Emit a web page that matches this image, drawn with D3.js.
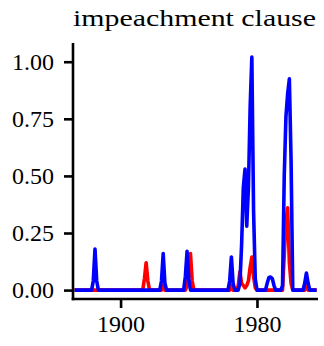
<!DOCTYPE html>
<html><head><meta charset="utf-8">
<script src="https://cdn.jsdelivr.net/npm/d3@7"></script>
<style>body{margin:0;background:#fff}svg{display:block}</style>
</head><body>
<script>
const title = "impeachment clause";
const yTicks = [0, 0.25, 0.5, 0.75, 1.0];
const xTicks = [1900, 1980];
const blueYears = [1873,1883,1884,1885,1886,1887,1923,1924,1925,1926,1927,1937,1938,1939,1940,1941,1963,1964,1965,1966,1967,1969,1970,1971,1972,1973,1974,1975,1976,1977,1978,1979,1980,1985,1986,1987,1988,1989,1990,1991,1994,1995,1996,1997,1998,1999,2000,2001,2007,2008,2009,2010,2011,2015];
const blueValues = [0,0,0.04,0.18,0.04,0,0,0.04,0.16,0.03,0,0,0.06,0.17,0.05,0,0,0.04,0.145,0.03,0,0,0.03,0.2,0.45,0.53,0.28,0.45,0.8,1.02,0.35,0.05,0,0,0.03,0.055,0.057,0.05,0.02,0,0,0.02,0.5,0.76,0.86,0.925,0.57,0,0,0.03,0.075,0.03,0,0];
const redYears = [1873,1913,1914,1915,1916,1917,1924,1925,1926,1938,1939,1940,1941,1942,1943,1964,1965,1966,1968,1969,1970,1971,1972,1973,1974,1975,1976,1977,1978,1979,1980,1995,1996,1997,1998,1999,2000,2001,2008,2009,2010,2015];
const redValues = [0,0,0.05,0.12,0.04,0,0,0.02,0,0,0.02,0.07,0.16,0.04,0,0,0.02,0,0,0.02,0.08,0.03,0.02,0.01,0.02,0.04,0.1,0.145,0.06,0.01,0,0,0.15,0.3,0.36,0.12,0.03,0,0,0.02,0,0];

const W = 324, H = 346;
const mL = 73, mR = 318, mT = 43, mB = 299;
const svg = d3.select("body").append("svg").attr("width", W).attr("height", H);
const x = d3.scaleLinear().domain([1872.1, 2015.8]).range([mL, mR]);
const y = d3.scaleLinear().domain([-0.039, 1.082]).range([mB, mT]);
const font = "Liberation Serif";

const line = d3.line().x(d => x(d[0])).y(d => y(d[1]));
const red = redYears.map((yr, i) => [yr, redValues[i]]);
const blue = blueYears.map((yr, i) => [yr, blueValues[i]]);
svg.append("path").datum(red).attr("d", line).attr("fill", "none")
  .attr("stroke", "#ff0000").attr("stroke-width", 3.6).attr("stroke-linejoin", "round");
svg.append("path").datum(blue).attr("d", line).attr("fill", "none")
  .attr("stroke", "#0000ff").attr("stroke-width", 3.6).attr("stroke-linejoin", "round");

const yAxis = svg.append("g").attr("transform", `translate(${mL},0)`)
  .call(d3.axisLeft(y).tickValues(yTicks).tickFormat(d3.format(".2f")).tickSize(9).tickPadding(10));
const xAxis = svg.append("g").attr("transform", `translate(0,${mB})`)
  .call(d3.axisBottom(x).tickValues(xTicks).tickFormat(d3.format("d")).tickSize(9).tickPadding(7));
[yAxis, xAxis].forEach(g => {
  g.select(".domain").remove();
  g.selectAll(".tick line").attr("stroke", "#000").attr("stroke-width", 2.6);
  g.selectAll(".tick text").attr("fill", "#000").style("font-family", font).style("font-size", "24px");
});
svg.append("line").attr("x1", mL).attr("x2", mL).attr("y1", mT).attr("y2", mB + 1.3)
  .attr("stroke", "#000").attr("stroke-width", 2.6);
svg.append("line").attr("x1", mL - 1.3).attr("x2", mR).attr("y1", mB).attr("y2", mB)
  .attr("stroke", "#000").attr("stroke-width", 2.6);

svg.append("text").attr("x", 194.5).attr("y", 26).attr("text-anchor", "middle")
  .attr("textLength", 243).attr("lengthAdjust", "spacingAndGlyphs")
  .style("font-family", font).style("font-size", "24px").attr("fill", "#000").text(title);
</script>
</body></html>
